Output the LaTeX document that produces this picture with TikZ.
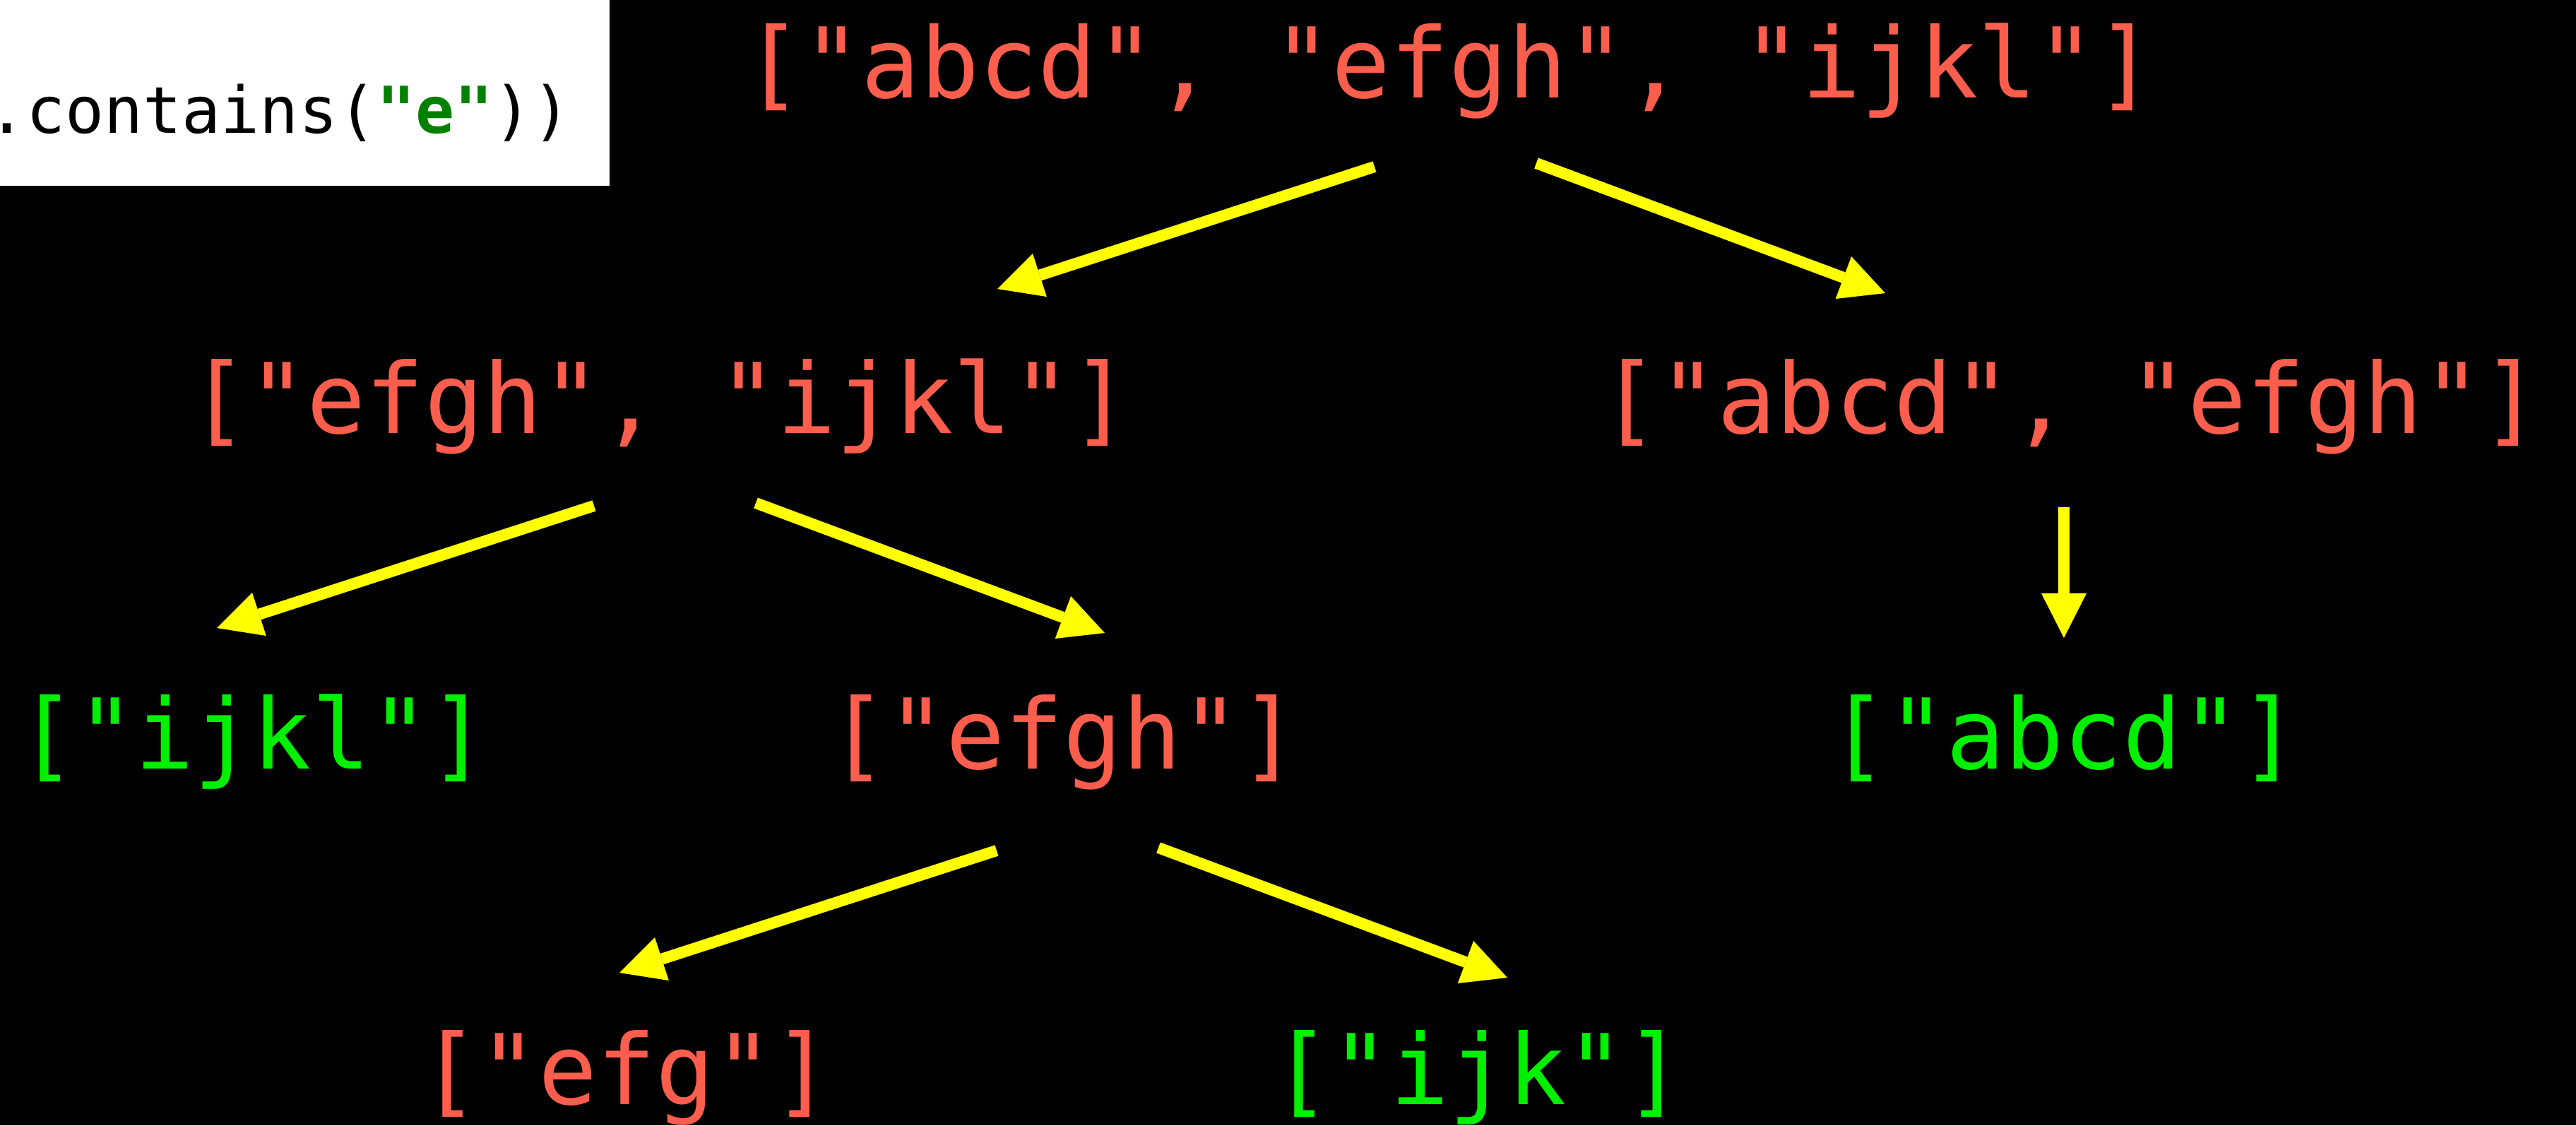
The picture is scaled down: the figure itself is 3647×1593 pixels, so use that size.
\documentclass[tikz,border=0pt]{standalone}
\usepackage{fontspec}
\usetikzlibrary{arrows.meta}
\newfontfamily\codefont[Ligatures=TeXOff]{DejaVu Sans Mono}
\definecolor{strred}{RGB}{252,94,78}
\definecolor{okgreen}{RGB}{0,240,0}
\definecolor{kwgreen}{RGB}{0,128,0}
\definecolor{arrowyellow}{RGB}{255,255,0}
\tikzset{
  lbl/.style={anchor=base, inner sep=0pt, font=\codefont\fontsize{39.3}{47}\selectfont},
  redlbl/.style={lbl, text=strred},
  greenlbl/.style={lbl, text=okgreen},
  codelbl/.style={anchor=base west, inner sep=0pt, text=black, font=\codefont\fontsize{26}{31}\selectfont},
  flow/.style={draw=arrowyellow, line width=0.16cm, -{Triangle[width=0.64cm,length=0.63cm,line width=0pt]}},
}
\begin{document}
\begin{tikzpicture}[x=0.01cm,y=-0.01cm]
\fill[black] (0,0) rectangle (3647,1593);
\useasboundingbox (0,0) rectangle (3647,1593);
% code box
\fill[white] (0,0) rectangle (863,263);
\node[codelbl] (code) at (-18,188) {.contains(\textcolor{kwgreen}{\bfseries"e"}))};
% lists
\node[redlbl] (r1) at (2052,138) {["abcd", "efgh", "ijkl"]};
\node[redlbl] (r2l) at (934,613) {["efgh", "ijkl"]};
\node[redlbl] (r2r) at (2931,613) {["abcd", "efgh"]};
\node[greenlbl] (r3a) at (358,1088) {["ijkl"]};
\node[redlbl] (r3b) at (1506,1088) {["efgh"]};
\node[greenlbl] (r3c) at (2922,1088) {["abcd"]};
\node[redlbl] (r4a) at (887,1563) {["efg"]};
\node[greenlbl] (r4b) at (2093,1563) {["ijk"]};
% arrow end points
\coordinate (a1s) at (1946,236); \coordinate (a1e) at (1412,409);
\coordinate (a2s) at (2175,231); \coordinate (a2e) at (2669,415);
\coordinate (a3s) at (841,716);  \coordinate (a3e) at (307,889);
\coordinate (a4s) at (1070,712); \coordinate (a4e) at (1564,896);
\coordinate (a5s) at (2922,718); \coordinate (a5e) at (2922,903);
\coordinate (a6s) at (1411,1204); \coordinate (a6e) at (877,1377);
\coordinate (a7s) at (1640,1200); \coordinate (a7e) at (2134,1384);
\draw[flow] (a1s) -- (a1e);
\draw[flow] (a2s) -- (a2e);
\draw[flow] (a3s) -- (a3e);
\draw[flow] (a4s) -- (a4e);
\draw[flow] (a5s) -- (a5e);
\draw[flow] (a6s) -- (a6e);
\draw[flow] (a7s) -- (a7e);
\end{tikzpicture}
\end{document}
